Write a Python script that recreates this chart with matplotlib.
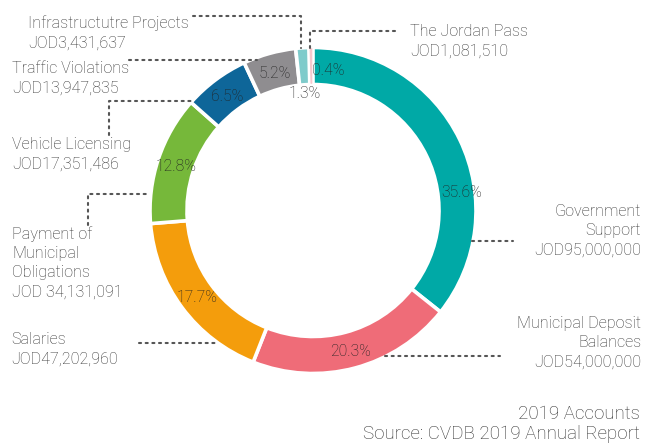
import numpy as np
import matplotlib
matplotlib.use('Agg')
import matplotlib.pyplot as plt

# slices, clockwise from 12 o'clock
names = ['Government\nSupport', 'Municipal Deposit\nBalances', 'Salaries',
         'Payment of\nMunicipal\nObligations', 'Vehicle Licensing',
         'Traffic Violations', 'Infrastructutre Projects', 'The Jordan Pass']
amounts = [95000000, 54000000, 47202960, 34131091, 17351486, 13947835, 3431637, 1081510]
amount_labels = ['JOD95,000,000', 'JOD54,000,000', 'JOD47,202,960', 'JOD 34,131,091',
                 'JOD17,351,486', 'JOD13,947,835', 'JOD3,431,637', 'JOD1,081,510']
pcts = [35.6, 20.3, 17.7, 12.8, 6.5, 5.2, 1.3, 0.4]
colors = ['#00a9a6', '#ef6c78', '#f49d0c', '#76b83a', '#0e6699', '#8f8d90', '#7ecbcb', '#f7c8cd']

footer = ['2019 Accounts', 'Source: CVDB 2019 Annual Report']

plt.rcParams['font.family'] = ['Roboto', 'DejaVu Sans']
plt.rcParams['font.weight'] = 'light'

W, H = 646, 443
fig = plt.figure(figsize=(W / 100, H / 100), dpi=100)
ax = fig.add_axes([0, 0, 1, 1])
renderer = fig.canvas.get_renderer()


def fit_size(s, target_px, base=11):
    # font size that makes s about target_px wide
    t = fig.text(0, 0, s, fontsize=base)
    w = t.get_window_extent(renderer=renderer).width
    t.remove()
    return base * target_px / w


label_fs = fit_size('Infrastructutre Projects', 160)
pct_fs = fit_size('35.6%', 41)
foot_fs = fit_size(footer[1], 275)

cx, cy, R = 313, 210.5, 163
# y axis is flipped below, so startangle -90 + counterclock draws clockwise from the top
wedges, _ = ax.pie(amounts, colors=colors, center=(cx, cy), radius=R,
                   startangle=-90, counterclock=True,
                   wedgeprops=dict(width=37, edgecolor='white', linewidth=2.6))
wedges[-1].set_linewidth(1.0)
ax.set_xlim(0, W)
ax.set_ylim(H, 0)  # pixel coords, y down
ax.set_aspect('equal')
ax.axis('off')

# percent labels at the wedge mid-angle, a few nudged like the original
pct_r = 144
pct_override = {0: (7.6, 150), 6: (94, 119), 7: (84, 142)}  # visual angle, radius
for i, w in enumerate(wedges):
    ang = (w.theta1 + w.theta2) / 2
    r = pct_r
    if i in pct_override:
        ang, r = pct_override[i]
        ang = -ang
    x = cx + r * np.cos(np.radians(ang))
    y = cy + r * np.sin(np.radians(ang))
    ax.text(x, y, f'{pcts[i]}%', ha='center', va='center_baseline',
            fontsize=pct_fs, color='#222222')

# leader lines, in pixel coords as in the original graphic
leaders = [
    [(472, 241), (513, 241)],
    [(385, 356), (500, 356)],
    [(139, 343), (217, 343)],
    [(88, 225), (88, 194), (148, 194)],
    [(109, 135), (109, 101), (193, 101)],
    [(129, 60), (257, 60)],
    [(193, 15.5), (301, 15.5), (301, 48)],
    [(395, 31), (310, 31), (310, 48)],
]
for pts in leaders:
    xs, ys = zip(*pts)
    ax.plot(xs, ys, color='#555555', lw=1.5, linestyle=(0, (1, 2.2)),
            dash_capstyle='round')

# category labels: x, centre of first line, alignment
label_pos = [
    (641, 210, 'right'),
    (641, 322, 'right'),
    (11, 338, 'left'),
    (12, 233, 'left'),
    (12, 143, 'left'),
    (12, 67, 'left'),
    (28, 22, 'left'),
    (410, 30, 'left'),
]
step = 19.2
for i, (x, y, ha) in enumerate(label_pos):
    lines = names[i].split('\n') + [amount_labels[i]]
    for k, line in enumerate(lines):
        ax.text(x, y + k * step, line, ha=ha, va='center_baseline',
                fontsize=label_fs, color='#333333')

for k, line in enumerate(footer):
    ax.text(640, 412 + k * 20, line, ha='right', va='center_baseline',
            fontsize=foot_fs, color='#333333')

fig.savefig('out.png', dpi=100)
